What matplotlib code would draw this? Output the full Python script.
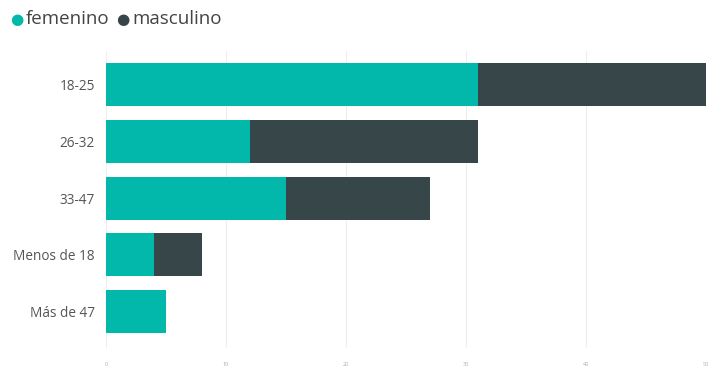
import matplotlib.pyplot as plt
import numpy as np

categories = ['18-25', '26-32', '33-47', 'Menos de 18', 'Más de 47']
femenino = [31, 12, 15, 4, 5]
masculino = [19, 19, 12, 4, 0]
x_ticks = [0, 10, 20, 30, 40, 50]

teal = '#01B8AA'
dark = '#374649'

plt.rcParams['font.family'] = ['Open Sans', 'DejaVu Sans']

fig = plt.figure(figsize=(7.16, 3.68), dpi=100)
ax = fig.add_axes([106 / 716, 1 - 348 / 368, 600 / 716, 297 / 368])

y = np.arange(len(categories))
ax.barh(y, femenino, height=0.76, color=teal, zorder=3)
ax.barh(y, masculino, left=femenino, height=0.76, color=dark, zorder=3)

ax.set_xlim(0, 50)
ax.set_ylim(len(categories) - 0.35, -0.6)
ax.set_yticks(y)
ax.set_yticklabels(categories, fontsize=9.8, color='#555555')
ax.set_xticks(x_ticks)
ax.set_xticklabels([str(t) for t in x_ticks], fontsize=4, color='#aaaaaa')
ax.tick_params(axis='both', length=0)
ax.tick_params(axis='y', pad=8)
ax.tick_params(axis='x', pad=10)
ax.grid(axis='x', color='#eeeeee', linewidth=0.8, zorder=0)
for s in ax.spines.values():
    s.set_visible(False)

# legend
fig.text(10 / 716, 1 - 19 / 368, '●', color=teal, fontsize=11, va='center', family='DejaVu Sans')
fig.text(26 / 716, 1 - 19 / 368, 'femenino', color='#444444', fontsize=13.5, va='center')
fig.text(116 / 716, 1 - 19 / 368, '●', color=dark, fontsize=11, va='center', family='DejaVu Sans')
fig.text(132 / 716, 1 - 19 / 368, 'masculino', color='#444444', fontsize=13.5, va='center')

fig.savefig('out.png', dpi=100)
